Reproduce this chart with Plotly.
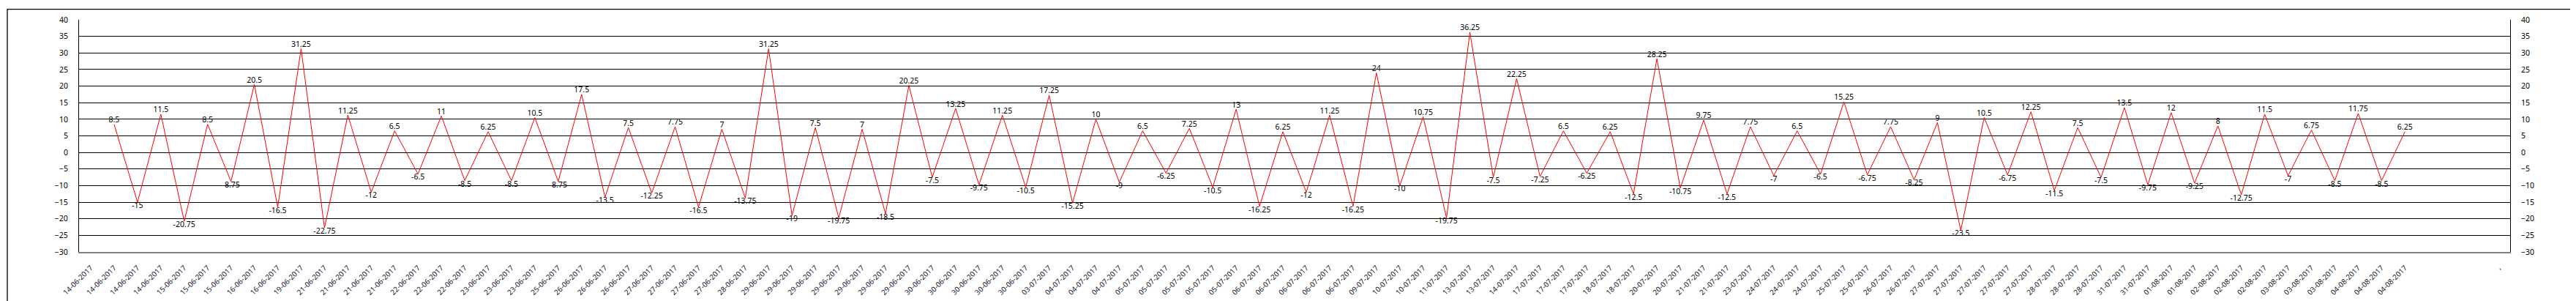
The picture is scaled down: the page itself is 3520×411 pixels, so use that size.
import plotly.graph_objects as go

dates = ["14-06-2017", "14-06-2017", "14-06-2017", "14-06-2017", "15-06-2017", "15-06-2017", "15-06-2017",
         "16-06-2017", "16-06-2017", "19-06-2017", "21-06-2017", "21-06-2017", "21-06-2017", "21-06-2017",
         "22-06-2017", "22-06-2017", "22-06-2017", "23-06-2017", "23-06-2017", "23-06-2017", "25-06-2017",
         "26-06-2017", "26-06-2017", "26-06-2017", "27-06-2017", "27-06-2017", "27-06-2017", "27-06-2017",
         "28-06-2017", "29-06-2017", "29-06-2017", "29-06-2017", "29-06-2017", "29-06-2017", "29-06-2017",
         "29-06-2017", "30-06-2017", "30-06-2017", "30-06-2017", "30-06-2017", "30-06-2017", "03-07-2017",
         "04-07-2017", "04-07-2017", "04-07-2017", "05-07-2017", "05-07-2017", "05-07-2017", "05-07-2017",
         "05-07-2017", "06-07-2017", "06-07-2017", "06-07-2017", "06-07-2017", "06-07-2017", "09-07-2017",
         "10-07-2017", "10-07-2017", "11-07-2017", "13-07-2017", "13-07-2017", "14-07-2017", "17-07-2017",
         "17-07-2017", "17-07-2017", "18-07-2017", "18-07-2017", "20-07-2017", "20-07-2017", "21-07-2017",
         "21-07-2017", "23-07-2017", "24-07-2017", "24-07-2017", "24-07-2017", "25-07-2017", "25-07-2017",
         "26-07-2017", "26-07-2017", "27-07-2017", "27-07-2017", "27-07-2017", "27-07-2017", "27-07-2017",
         "28-07-2017", "28-07-2017", "28-07-2017", "31-07-2017", "31-07-2017", "01-08-2017", "01-08-2017",
         "02-08-2017", "02-08-2017", "02-08-2017", "03-08-2017", "03-08-2017", "03-08-2017", "04-08-2017",
         "04-08-2017", "04-08-2017", "", "", "", ","]

values = [None, 8.5, -15, 11.5, -20.75, 8.5, -8.75,
          20.5, -16.5, 31.25, -22.75, 11.25, -12, 6.5,
          -6.5, 11, -8.5, 6.25, -8.5, 10.5, -8.75,
          17.5, -13.5, 7.5, -12.25, 7.75, -16.5, 7,
          -13.75, 31.25, -19, 7.5, -19.75, 7, -18.5,
          20.25, -7.5, 13.25, -9.75, 11.25, -10.5, 17.25,
          -15.25, 10, -9, 6.5, -6.25, 7.25, -10.5,
          13, -16.25, 6.25, -12, 11.25, -16.25, 24,
          -10, 10.75, -19.75, 36.25, -7.5, 22.25, -7.25,
          6.5, -6.25, 6.25, -12.5, 28.25, -10.75, 9.75,
          -12.5, 7.75, -7, 6.5, -6.5, 15.25, -6.75,
          7.75, -8.25, 9, -23.5, 10.5, -6.75, 12.25,
          -11.5, 7.5, -7.5, 13.5, -9.75, 12, -9.25,
          8, -12.75, 11.5, -7, 6.75, -8.5, 11.75,
          -8.5, 6.25, None, None, None, None]

y_ticks = [-30, -25, -20, -15, -10, -5, 0, 5, 10, 15, 20, 25, 30, 35, 40]

idx = list(range(len(dates)))
labels = ["" if v is None else f"{v:g}" for v in values]
positions = ["bottom center" if (v is not None and v < 0) else "top center" for v in values]

font = "Noto Sans"

# chart geometry in pixels (plot box inside the 3520x411 page)
W, H = 3520, 411
left, right, top, bottom = 99.5, 98.3, 16, 75

trace = go.Scatter(x=idx, y=values, mode='lines+text', text=labels, textposition=positions,
                   textfont=dict(family=font, size=10.5, color='black'),
                   line=dict(color='red', width=1), connectgaps=False,
                   hoverinfo='skip', showlegend=False)
# same series on the right axis, kept invisible, just so that axis gets drawn
ghost = go.Scatter(x=idx, y=values, mode='lines', yaxis='y2', opacity=0,
                   line=dict(color='red', width=1), hoverinfo='skip', showlegend=False)

fig = go.Figure(data=[trace, ghost])

pw = W - left - right
ph = H - top - bottom
fig.add_shape(type='rect', xref='paper', yref='paper',
              x0=(1.5 - left) / pw, x1=(W - 2 - left) / pw,
              y0=-(H - 1.5 - (H - bottom)) / ph, y1=1 + (top - 1.5) / ph,
              line=dict(color='black', width=1.3), layer='below')

fig.update_layout(width=W, height=H,
                  margin=dict(l=left, r=right, t=top, b=bottom, pad=0),
                  paper_bgcolor='white', plot_bgcolor='white',
                  font=dict(family=font, size=10.5, color='black'),
                  xaxis=dict(range=[-0.5, len(dates) - 0.5], tickvals=idx, ticktext=dates,
                             tickangle=-45, tickfont=dict(family=font, size=10, color='#1a1a33'),
                             showgrid=False, zeroline=False, showline=True, linecolor='#808080',
                             linewidth=2, ticks='', ticklabelstandoff=10),
                  yaxis=dict(range=[-30, 40], tickvals=y_ticks, showgrid=True, gridcolor='black',
                             gridwidth=1, zeroline=False, showline=True, linecolor='black', linewidth=1,
                             ticks='', ticklabelstandoff=12),
                  yaxis2=dict(range=[-30, 40], tickvals=y_ticks, overlaying='y', side='right',
                              showgrid=False, zeroline=False, showline=True, linecolor='black',
                              linewidth=1, ticks='', ticklabelstandoff=12))

fig.write_html("out.html")
